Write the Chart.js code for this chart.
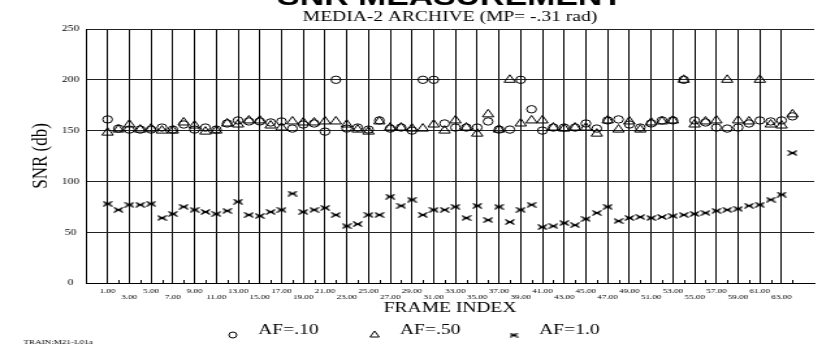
<!DOCTYPE html>
<html>
<head>
<meta charset="utf-8">
<script src="https://cdn.jsdelivr.net/npm/chart.js@4.4.0/dist/chart.umd.min.js"></script>
<style>
  html, body { margin: 0; padding: 0; background: #fff; }
  #snr { display: block; }
</style>
</head>
<body>
<!-- the plot is drawn narrow and stretched sideways, like the scanned original -->
<canvas id="snr" width="632" height="354" style="width:822px;height:354px"></canvas>
<script>
// frame index and SNR (db) for each averaging factor
const frames = [1, 2, 3, 4, 5, 6, 7, 8, 9, 10, 11, 12, 13, 14, 15, 16,
    17, 18, 19, 20, 21, 22, 23, 24, 25, 26, 27, 28, 29, 30, 31, 32,
    33, 34, 35, 36, 37, 38, 39, 40, 41, 42, 43, 44, 45, 46, 47, 48,
    49, 50, 51, 52, 53, 54, 55, 56, 57, 58, 59, 60, 61, 62, 63, 64];
const af10 = [161, 152, 151, 151, 151, 153, 151, 156, 151, 153, 151, 157, 160, 159, 159, 158,
    159, 152, 156, 157, 149, 200, 152, 153, 151, 160, 152, 153, 150, 200, 200, 157,
    153, 153, 153, 159, 151, 151, 200, 171, 150, 153, 153, 153, 157, 152, 160, 161,
    156, 153, 157, 160, 160, 200, 160, 158, 153, 152, 153, 157, 160, 159, 160, 164];
const af50 = [148, 151, 156, 151, 152, 150, 150, 158, 155, 149, 150, 157, 156, 160, 160, 155,
    153, 159, 158, 158, 159, 159, 156, 151, 149, 159, 153, 153, 152, 152, 156, 150,
    160, 153, 147, 166, 151, 200, 157, 160, 160, 153, 152, 153, 153, 147, 160, 151,
    159, 151, 158, 159, 160, 200, 156, 159, 160, 200, 160, 159, 200, 156, 155, 166];
const af100 = [78, 72, 77, 77, 78, 64, 68, 75, 72, 70, 68, 71, 80, 67, 66, 70,
    72, 88, 70, 72, 74, 67, 56, 58, 67, 67, 85, 76, 82, 67, 72, 72,
    75, 64, 76, 62, 75, 60, 72, 77, 55, 56, 59, 57, 63, 69, 75, 61,
    64, 65, 64, 65, 66, 67, 68, 69, 71, 72, 73, 76, 77, 82, 87, 128];
const seriesLabels = ['AF=.10', 'AF=.50', 'AF=1.0'];
const frameTicks = [1, 3, 5, 7, 9, 11, 13, 15, 17, 19, 21, 23, 25, 27, 29, 31,
    33, 35, 37, 39, 41, 43, 45, 47, 49, 51, 53, 55, 57, 59, 61, 63];

const serif = '"Liberation Serif", "Times New Roman", serif';

// bow-tie cross used for AF=1.0
function makeCross(w, h) {
    const c = document.createElement('canvas');
    c.width = w;
    c.height = h;
    const g = c.getContext('2d');
    g.strokeStyle = '#000';
    g.lineWidth = 1.1;
    g.beginPath();
    g.moveTo(0.5, 0.5); g.lineTo(w - 0.5, h - 0.5);
    g.moveTo(0.5, h - 0.5); g.lineTo(w - 0.5, 0.5);
    g.moveTo(1.5, h / 2); g.lineTo(w - 1.5, h / 2);
    g.stroke();
    return c;
}
const crossMark = makeCross(8, 6);
const crossSmall = makeCross(7, 5);

function pts(values) {
    return frames.map((f, i) => ({ x: f, y: values[i] }));
}

const extras = {
    id: 'extras',
    beforeDatasetsDraw(chart) {
        // short minor ticks at the even frames
        const ctx = chart.ctx;
        const x = chart.scales.x;
        const bottom = chart.chartArea.bottom;
        ctx.save();
        ctx.strokeStyle = '#000';
        ctx.lineWidth = 1;
        ctx.beginPath();
        frames.filter(f => f % 2 === 0).forEach(f => {
            const px = Math.round(x.getPixelForValue(f)) + 0.5;
            ctx.moveTo(px, bottom);
            ctx.lineTo(px, bottom - 3);
        });
        ctx.stroke();
        ctx.restore();
    },
    afterDraw(chart) {
        const ctx = chart.ctx;
        const area = chart.chartArea;
        ctx.save();
        ctx.fillStyle = '#000';

        // big heading, mostly cut off by the top edge
        ctx.font = 'bold 26px "Liberation Sans", Arial, sans-serif';
        ctx.textAlign = 'center';
        ctx.textBaseline = 'alphabetic';
        ctx.fillText('SNR MEASUREMENT', (area.left + area.right) / 2, 5);

        // legend row
        const slots = [179, 288, 395];
        const my = 335;
        ctx.strokeStyle = '#000';
        ctx.lineWidth = 1;
        ctx.font = '15px ' + serif;
        ctx.textAlign = 'left';
        ctx.textBaseline = 'middle';
        seriesLabels.forEach((label, i) => {
            const mx = slots[i];
            ctx.beginPath();
            if (i === 0) {
                ctx.arc(mx, my, 3, 0, Math.PI * 2);
                ctx.stroke();
            } else if (i === 1) {
                ctx.moveTo(mx, my - 4);
                ctx.lineTo(mx + 3.5, my + 2);
                ctx.lineTo(mx - 3.5, my + 2);
                ctx.closePath();
                ctx.stroke();
            } else {
                ctx.drawImage(crossSmall, mx - 3.5, my - 2.5);
            }
            ctx.fillText(label, mx + 19.5, 330.5);
        });

        ctx.font = '7px ' + serif;
        ctx.fillText('TRAIN:M21-L01a', 18, 342);
        ctx.restore();
    }
};

Chart.defaults.color = '#000';
Chart.defaults.font.family = serif;

const ctx = document.getElementById('snr').getContext('2d');
const snrChart = new Chart(ctx, {
    type: 'scatter',
    data: {
        datasets: [{
            label: seriesLabels[0],
            data: pts(af10),
            pointStyle: 'circle',
            pointRadius: 3.7,
            borderColor: '#000',
            backgroundColor: 'rgba(0,0,0,0)',
            borderWidth: 1
        }, {
            label: seriesLabels[1],
            data: pts(af50),
            pointStyle: 'triangle',
            pointRadius: 5,
            borderColor: '#000',
            backgroundColor: 'rgba(0,0,0,0)',
            borderWidth: 1
        }, {
            label: seriesLabels[2],
            data: pts(af100),
            pointStyle: crossMark,
            borderColor: '#000',
            backgroundColor: '#000'
        }]
    },
    options: {
        responsive: false,
        devicePixelRatio: 1,
        animation: false,
        events: [],
        layout: { padding: { left: 0, right: 0, top: 0, bottom: 37 } },
        plugins: {
            legend: { display: false },
            tooltip: { enabled: false },
            title: { display: false },
            subtitle: {
                display: true,
                text: 'MEDIA-2 ARCHIVE (MP= -.31 rad)',
                fullSize: false,
                color: '#000',
                font: { family: serif, size: 15, weight: 'normal' },
                padding: { top: 8, bottom: 3 }
            }
        },
        scales: {
            x: {
                type: 'linear',
                min: -1,
                max: 66,
                afterBuildTicks: (scale) => {
                    scale.ticks = frameTicks.map(v => ({ value: v }));
                },
                afterFit: (scale) => { scale.height = 34; },
                grid: { color: '#000', lineWidth: 1, drawTicks: false },
                border: { color: '#000', width: 1 },
                ticks: {
                    autoSkip: false,
                    maxRotation: 0,
                    padding: 5,
                    font: { size: 7, lineHeight: 0.9 },
                    callback: (value) => {
                        const label = value.toFixed(2);
                        return ((value - 1) / 2) % 2 === 0 ? label : ['', label];
                    }
                },
                title: {
                    display: true,
                    text: 'FRAME INDEX',
                    font: { size: 15 },
                    padding: { top: 0, bottom: 0 }
                }
            },
            y: {
                min: 0,
                max: 250,
                afterFit: (scale) => { scale.width = 66; },
                grid: { color: '#222', lineWidth: 1, drawTicks: false },
                border: { color: '#000', width: 1 },
                ticks: {
                    stepSize: 50,
                    padding: 5,
                    crossAlign: 'center',
                    font: { size: 9 }
                },
                title: {
                    display: true,
                    text: 'SNR (db)',
                    font: { size: 17 },
                    padding: { top: 21, bottom: 0 }
                }
            }
        }
    },
    plugins: [extras]
});
</script>
</body>
</html>
